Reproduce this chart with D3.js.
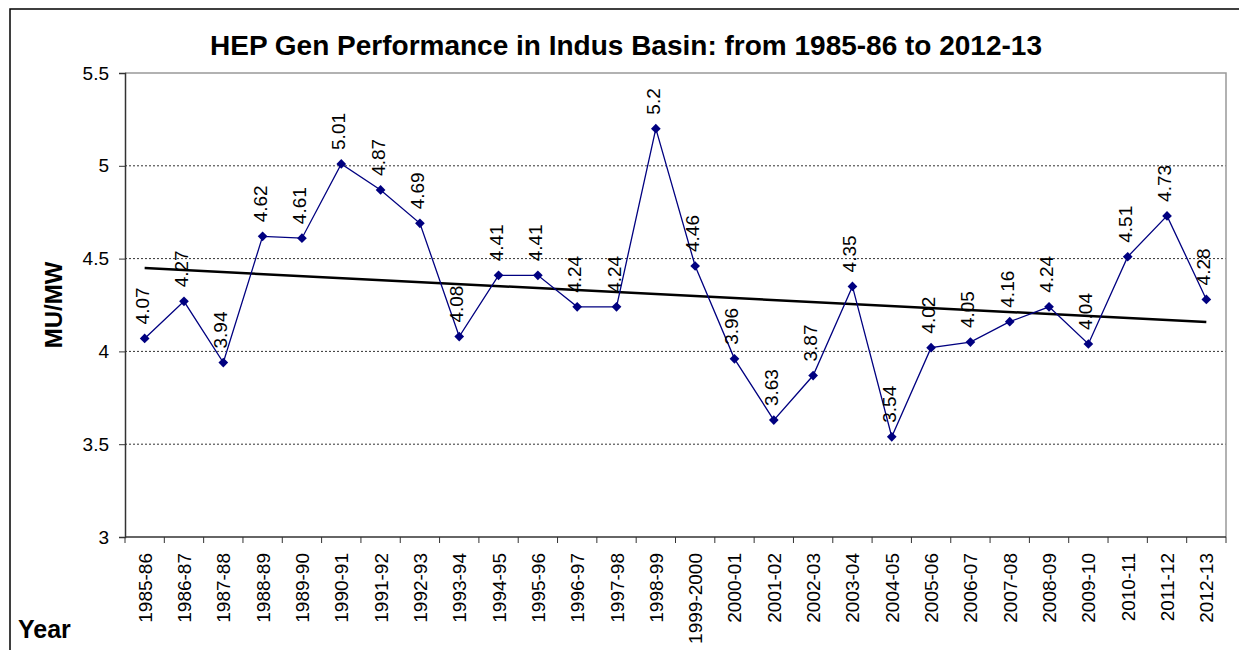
<!DOCTYPE html>
<html>
<head>
<style>
  body { margin: 0; background: #fff; }
  svg { display: block; font-family: "Liberation Sans", Arial, sans-serif; }
</style>
</head>
<body>
<svg id="chart" width="1239" height="650"></svg>
<script src="https://d3js.org/d3.v7.min.js"></script>
<script>
var years = ["1985-86","1986-87","1987-88","1988-89","1989-90","1990-91","1991-92","1992-93",
  "1993-94","1994-95","1995-96","1996-97","1997-98","1998-99","1999-2000","2000-01","2001-02",
  "2002-03","2003-04","2004-05","2005-06","2006-07","2007-08","2008-09","2009-10","2010-11",
  "2011-12","2012-13"];
var muPerMw = [4.07,4.27,3.94,4.62,4.61,5.01,4.87,4.69,4.08,4.41,4.41,4.24,4.24,5.2,4.46,3.96,
  3.63,3.87,4.35,3.54,4.02,4.05,4.16,4.24,4.04,4.51,4.73,4.28];
var yTicks = [3, 3.5, 4, 4.5, 5, 5.5];

var svg = d3.select("#chart");
var plotL = 125, plotR = 1226, plotT = 73, plotB = 537;

// outer frame (runs off the right and bottom edges)
svg.append("rect").attr("x", 10).attr("y", 9).attr("width", 1260).attr("height", 700)
  .attr("fill", "none").attr("stroke", "#000").attr("stroke-width", 1.5);

var x = d3.scaleBand().domain(years).range([plotL, plotR]);
var y = d3.scaleLinear().domain([3, 5.5]).range([plotB, plotT]);

// grid lines
svg.append("g").selectAll("line").data(yTicks.filter(function(d){ return d > 3 && d < 5.5; }))
  .enter().append("line")
  .attr("x1", plotL).attr("x2", plotR)
  .attr("y1", function(d){ return y(d); }).attr("y2", function(d){ return y(d); })
  .attr("stroke", "#333").attr("stroke-width", 1).attr("stroke-dasharray", "2,2");

// plot border top/right
svg.append("path").attr("d", "M" + plotL + "," + plotT + "H" + plotR + "V" + plotB)
  .attr("fill", "none").attr("stroke", "#999").attr("stroke-width", 1.5);

// y axis
var yAxis = svg.append("g").attr("transform", "translate(" + plotL + ",0)")
  .call(d3.axisLeft(y).tickValues(yTicks).tickSize(6).tickPadding(10).tickFormat(d3.format("")));
yAxis.select(".domain").attr("stroke", "#333").attr("stroke-width", 1.5);
yAxis.selectAll(".tick line").attr("stroke", "#333");
yAxis.selectAll("text").attr("font-size", 19).attr("fill", "#000")
  .attr("font-family", "'Liberation Sans', Arial, sans-serif");

// x axis: ticks between categories
var xg = svg.append("g").attr("transform", "translate(0," + plotB + ")");
xg.append("line").attr("x1", plotL).attr("x2", plotR).attr("stroke", "#333").attr("stroke-width", 1.5);
xg.selectAll("line.tk").data(years.concat(["end"])).enter().append("line").attr("class", "tk")
  .attr("x1", function(d, i){ return plotL + i * x.step(); })
  .attr("x2", function(d, i){ return plotL + i * x.step(); })
  .attr("y1", 0).attr("y2", 6).attr("stroke", "#333");
xg.selectAll("text").data(years).enter().append("text")
  .attr("transform", function(d){ return "translate(" + (x(d) + x.bandwidth() / 2 + 7) + ",16) rotate(-90)"; })
  .attr("text-anchor", "end").attr("font-size", 19).text(function(d){ return d; });

// trend line (least squares fit)
var n = muPerMw.length, sx = 0, sy = 0, sxy = 0, sxx = 0;
muPerMw.forEach(function(v, i){ sx += i; sy += v; sxy += i * v; sxx += i * i; });
var slope = (n * sxy - sx * sy) / (n * sxx - sx * sx);
var icpt = (sy - slope * sx) / n;
var cx = function(i){ return x(years[i]) + x.bandwidth() / 2; };
svg.append("line")
  .attr("x1", cx(0)).attr("y1", y(icpt))
  .attr("x2", cx(n - 1)).attr("y2", y(icpt + slope * (n - 1)))
  .attr("stroke", "#000").attr("stroke-width", 2.5);

// series line
var line = d3.line().x(function(d, i){ return cx(i); }).y(function(d){ return y(d); });
svg.append("path").datum(muPerMw).attr("d", line)
  .attr("fill", "none").attr("stroke", "#000080").attr("stroke-width", 1.3);

// markers
svg.append("g").selectAll("path").data(muPerMw).enter().append("path")
  .attr("d", d3.symbol().type(d3.symbolDiamond2).size(60))
  .attr("transform", function(d, i){ return "translate(" + cx(i) + "," + y(d) + ")"; })
  .attr("fill", "#000080");

// data labels
svg.append("g").selectAll("text").data(muPerMw).enter().append("text")
  .attr("transform", function(d, i){ return "translate(" + (cx(i) + 4) + "," + (y(d) - 14) + ") rotate(-90)"; })
  .attr("font-size", 19).attr("fill", "#000").text(function(d){ return d; });

// titles
svg.append("text").attr("x", 626).attr("y", 55).attr("text-anchor", "middle")
  .attr("font-size", 28).attr("font-weight", "bold")
  .text("HEP Gen Performance in Indus Basin: from 1985-86 to 2012-13");
svg.append("text").attr("transform", "translate(62,305) rotate(-90)").attr("text-anchor", "middle")
  .attr("font-size", 24).attr("font-weight", "bold").text("MU/MW");
svg.append("text").attr("x", 18).attr("y", 638)
  .attr("font-size", 25).attr("font-weight", "bold").text("Year");
</script>
</body>
</html>
